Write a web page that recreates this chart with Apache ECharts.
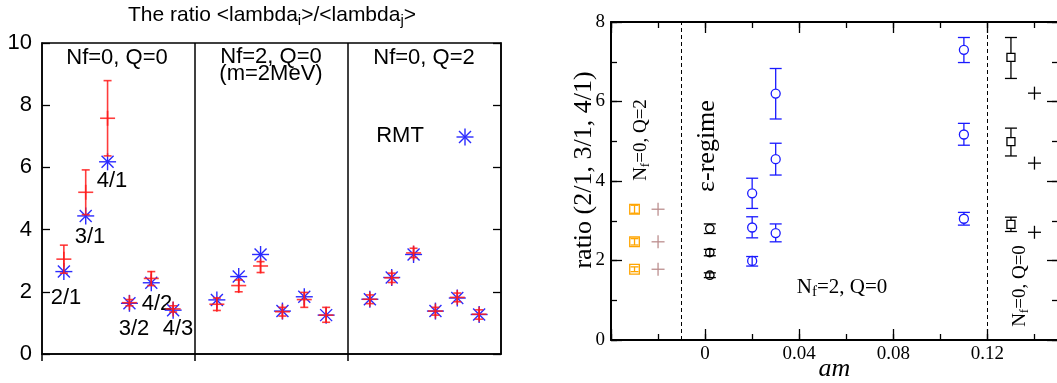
<!DOCTYPE html>
<html>
<head>
<meta charset="utf-8">
<script src="https://cdn.jsdelivr.net/npm/echarts@6/dist/echarts.min.js"></script>
<style>
html, body { margin: 0; padding: 0; background: #fff; }
#main { width: 1057px; height: 383px; }
</style>
</head>
<body>
<div id="main"></div>
<script>
// ---- left panel: <lambda_i>/<lambda_j>, three ensembles, six ratios each
var pairLabels = ['2/1', '3/1', '4/1', '3/2', '4/2', '4/3'];
var ensembleNames = ['Nf=0, Q=0', 'Nf=2, Q=0', 'Nf=0, Q=2'];
var rmtRatio = [2.65, 4.44, 6.18, 1.63, 2.29, 1.41,
                1.74, 2.49, 3.20, 1.38, 1.84, 1.25,
                1.76, 2.46, 3.20, 1.38, 1.80, 1.27];
var latRatio = [3.05, 5.20, 7.58, 1.65, 2.43, 1.45,
                1.60, 2.20, 2.83, 1.36, 1.75, 1.25,
                1.76, 2.45, 3.25, 1.38, 1.82, 1.28];
var latLow   = [2.60, 4.48, 6.37, 1.55, 2.20, 1.35,
                1.40, 2.00, 2.62, 1.22, 1.50, 1.02,
                1.62, 2.30, 3.10, 1.25, 1.68, 1.12];
var latHigh  = [3.50, 5.92, 8.79, 1.75, 2.65, 1.55,
                1.80, 2.38, 2.97, 1.50, 1.98, 1.50,
                1.90, 2.60, 3.40, 1.50, 1.96, 1.42];

// ---- right panel: ratio vs am
var q2Am = [-0.03, -0.03, -0.03];
var q2Ratio = [3.29, 2.47, 1.78];
var q2Err = [0.10, 0.08, 0.06];
var q2RmtAm = [-0.02, -0.02, -0.02];
var q2RmtRatio = [3.29, 2.47, 1.78];
var epsAm = [0.002, 0.002, 0.002];
var epsRatio = [2.80, 2.20, 1.63];
var epsErr = [0.12, 0.08, 0.06];
var pAm    = [0.02, 0.02, 0.02, 0.03, 0.03, 0.03, 0.11, 0.11, 0.11];
var pRatio = [3.69, 2.83, 1.99, 6.20, 4.55, 2.69, 7.30, 5.17, 3.05];
var pLow   = [3.31, 2.57, 1.86, 5.56, 4.15, 2.47, 6.98, 4.90, 2.89];
var pHigh  = [4.07, 3.10, 2.10, 6.83, 4.95, 2.92, 7.61, 5.45, 3.21];
var q0Am = [0.13, 0.13, 0.13];
var q0Ratio = [7.11, 4.99, 2.91];
var q0Low = [6.58, 4.63, 2.73];
var q0High = [7.61, 5.33, 3.09];
var q0RmtAm = [0.14, 0.14, 0.14];
var q0RmtRatio = [6.21, 4.45, 2.71];
var amBreaks = [-0.01, 0.12];

var SANS = 'Liberation Sans';
var SERIF = 'Liberation Serif';
var RED = '#ff1a1a';
var BLUE = '#2a2aff';

function seg(x1, y1, x2, y2, st) {
  return { type: 'line', shape: { x1: x1, y1: y1, x2: x2, y2: y2 }, style: st };
}

// left panel x position: 6 points per section, sections 7 units wide
var latData = [], rmtData = [];
for (var i = 0; i < latRatio.length; i++) {
  var xpos = Math.floor(i / 6) * 7 + (i % 6) + 1;
  latData.push([xpos, latRatio[i], latLow[i], latHigh[i]]);
  rmtData.push([xpos, rmtRatio[i]]);
}

function latticeItem(params, api) {
  var c = api.coord([api.value(0), api.value(1)]);
  var lo = api.coord([api.value(0), api.value(2)]);
  var hi = api.coord([api.value(0), api.value(3)]);
  var st = { stroke: RED, lineWidth: 1.6, opacity: 0.85 };
  return { type: 'group', children: [
    seg(c[0], hi[1], c[0], lo[1], st),
    seg(c[0] - 4, hi[1], c[0] + 4, hi[1], st),
    seg(c[0] - 4, lo[1], c[0] + 4, lo[1], st),
    seg(c[0] - 7.5, c[1], c[0] + 7.5, c[1], st),
    seg(c[0], c[1] - 7.5, c[0], c[1] + 7.5, st)
  ]};
}

function asterisk(x, y, st) {
  return [
    seg(x - 8.5, y, x + 8.5, y, st),
    seg(x, y - 8.5, x, y + 8.5, st),
    seg(x - 6, y - 6, x + 6, y + 6, st),
    seg(x - 6, y + 6, x + 6, y - 6, st)
  ];
}

function rmtItem(params, api) {
  var c = api.coord([api.value(0), api.value(1)]);
  return { type: 'group', children: asterisk(c[0], c[1], { stroke: BLUE, lineWidth: 1.4 }) };
}

// right panel: marker with vertical error bar
function errorItem(color, marker, r, cap) {
  return function (params, api) {
    var x = api.value(0);
    var c = api.coord([x, api.value(1)]);
    var lo = api.coord([x, api.value(2)]);
    var hi = api.coord([x, api.value(3)]);
    var st = { stroke: color, fill: 'none', lineWidth: 1.3 };
    var kids = [];
    if (lo[1] - hi[1] > 0.5) {
      if (hi[1] < c[1] - r) {
        kids.push(seg(c[0], hi[1], c[0], c[1] - r, st));
        kids.push(seg(c[0], c[1] + r, c[0], lo[1], st));
      } else {
        kids.push(seg(c[0], hi[1], c[0], lo[1], st));
      }
      kids.push(seg(c[0] - cap, hi[1], c[0] + cap, hi[1], st));
      kids.push(seg(c[0] - cap, lo[1], c[0] + cap, lo[1], st));
    }
    if (marker === 'circle') {
      kids.push({ type: 'circle', shape: { cx: c[0], cy: c[1], r: r }, style: st });
    } else if (marker === 'square') {
      kids.push({ type: 'rect', shape: { x: c[0] - r, y: c[1] - r, width: 2 * r, height: 2 * r }, style: st });
    } else {
      kids.push(seg(c[0] - r, c[1], c[0] + r, c[1], st));
      kids.push(seg(c[0], c[1] - r, c[0], c[1] + r, st));
    }
    return { type: 'group', children: kids };
  };
}

function zipErr(xs, ys, errs) {
  return xs.map(function (x, k) { return [x, ys[k], ys[k] - errs[k], ys[k] + errs[k]]; });
}
function zipLH(xs, ys, lo, hi) {
  return xs.map(function (x, k) { return [x, ys[k], lo[k], hi[k]]; });
}

var q2Data = zipErr(q2Am, q2Ratio, q2Err);
var q2RmtData = zipErr(q2RmtAm, q2RmtRatio, [0, 0, 0]);
var epsData = zipErr(epsAm, epsRatio, epsErr);
var pData = zipLH(pAm, pRatio, pLow, pHigh);
var q0Data = zipLH(q0Am, q0Ratio, q0Low, q0High);
var q0RmtData = zipErr(q0RmtAm, q0RmtRatio, [0, 0, 0]);

function amLabel(v) {
  if (v < -0.001 || v > 0.121) return '';
  return String(Number(v.toFixed(2)));
}

var black = { color: '#000', width: 2 };
function rightX(pos, interval, len, withLabel) {
  return {
    type: 'value', gridIndex: 1, position: pos, min: -0.04, max: 0.15, interval: interval,
    axisLine: { show: len > 8, onZero: false, lineStyle: black },
    axisTick: { inside: true, length: len, lineStyle: { color: '#000', width: 1.3 } },
    axisLabel: withLabel ? { show: true, formatter: amLabel, color: '#000', fontFamily: SERIF, fontSize: 19, margin: 5 } : { show: false },
    splitLine: { show: false }
  };
}
function rightY(pos, interval, len, withLabel) {
  return {
    type: 'value', gridIndex: 1, position: pos, min: 0, max: 8, interval: interval,
    axisLine: { show: len > 8, onZero: false, lineStyle: black },
    axisTick: { inside: true, length: len, lineStyle: { color: '#000', width: 1.3 } },
    axisLabel: withLabel ? { show: true, color: '#000', fontFamily: SERIF, fontSize: 19, margin: 6 } : { show: false },
    splitLine: { show: false }
  };
}

var xMain = rightX('bottom', 0.04, 11, true);
xMain.name = 'am';
xMain.nameLocation = 'middle';
xMain.nameGap = 16;
xMain.nameMoveOverlap = false;
xMain.nameTextStyle = { fontFamily: SERIF, fontStyle: 'italic', fontSize: 26, color: '#000' };

var option = {
  animation: false,
  backgroundColor: '#fff',
  grid: [
    { left: 42, top: 43, width: 459, height: 311, show: true, borderColor: '#000', borderWidth: 1.5,
      containLabel: false, outerBoundsMode: 'none' },
    { left: 611, top: 22, width: 447, height: 318, containLabel: false, outerBoundsMode: 'none' }
  ],
  xAxis: [
    {
      type: 'value', gridIndex: 0, min: 0, max: 21, interval: 7,
      axisLine: { onZero: false, lineStyle: { color: '#000', width: 1.5 } },
      axisTick: { show: true, length: 7, customValues: [0, 7, 14], lineStyle: { color: '#000', width: 1.5 } },
      axisLabel: { show: false },
      splitLine: { show: false }
    },
    xMain,
    rightX('bottom', 0.02, 6, false),
    rightX('top', 0.04, 11, false),
    rightX('top', 0.02, 6, false)
  ],
  yAxis: [
    {
      type: 'value', gridIndex: 0, min: 0, max: 10, interval: 2,
      axisLine: { onZero: false, lineStyle: { color: '#000', width: 1.5 } },
      axisTick: { inside: true, length: 8, lineStyle: { color: '#000', width: 1.3 } },
      axisLabel: { color: '#000', fontFamily: SANS, fontSize: 22, margin: 10 },
      splitLine: { show: false }
    },
    {
      type: 'value', gridIndex: 0, position: 'right', min: 0, max: 10, interval: 2,
      axisLine: { onZero: false, lineStyle: { color: '#000', width: 1.5 } },
      axisTick: { inside: true, length: 8, lineStyle: { color: '#000', width: 1.3 } },
      axisLabel: { show: false },
      splitLine: { show: false }
    },
    rightY('left', 2, 11, true),
    rightY('left', 1, 6, false),
    rightY('right', 2, 11, false),
    rightY('right', 1, 6, false)
  ],
  series: [
    {
      name: 'RMT', type: 'custom', xAxisIndex: 0, yAxisIndex: 0,
      renderItem: rmtItem, data: rmtData, z: 3
    },
    {
      name: 'lattice', type: 'custom', xAxisIndex: 0, yAxisIndex: 0,
      renderItem: latticeItem, data: latData, z: 4,
      markLine: {
        silent: true, symbol: ['none', 'none'], label: { show: false },
        lineStyle: { color: '#000', width: 1.5, type: 'solid' },
        data: [{ xAxis: 7 }, { xAxis: 14 }]
      }
    },
    {
      name: 'Nf=0 Q=2', type: 'custom', xAxisIndex: 1, yAxisIndex: 2,
      renderItem: errorItem('#ffa500', 'square', 4.8, 4), data: q2Data,
      markLine: {
        silent: true, symbol: ['none', 'none'], label: { show: false },
        lineStyle: { color: '#000', width: 1, type: [4, 3] },
        data: amBreaks.map(function (v) { return { xAxis: v }; })
      }
    },
    { name: 'RMT Q=2', type: 'custom', xAxisIndex: 1, yAxisIndex: 2,
      renderItem: errorItem('#bc8f8f', 'plus', 6.5, 0), data: q2RmtData },
    { name: 'eps', type: 'custom', xAxisIndex: 1, yAxisIndex: 2,
      renderItem: errorItem('#000', 'circle', 4.2, 6), data: epsData },
    { name: 'p', type: 'custom', xAxisIndex: 1, yAxisIndex: 2,
      renderItem: errorItem('#1a1aff', 'circle', 4.5, 6), data: pData },
    { name: 'Nf=0 Q=0', type: 'custom', xAxisIndex: 1, yAxisIndex: 2,
      renderItem: errorItem('#000', 'square', 4, 6), data: q0Data },
    { name: 'RMT Q=0', type: 'custom', xAxisIndex: 1, yAxisIndex: 2,
      renderItem: errorItem('#000', 'plus', 6.5, 0), data: q0RmtData }
  ],
  graphic: []
};

function txt(x, y, text, size, family, extra) {
  var el = { type: 'text', x: x, y: y, silent: true,
    style: { text: text, fill: '#000', fontFamily: family, fontSize: size, align: 'center', verticalAlign: 'middle' } };
  if (extra) for (var k in extra) el[k] = extra[k];
  return el;
}
function subRich(size, family) {
  return {
    n: { fontFamily: family, fontSize: size, fill: '#000', lineHeight: size + 2 },
    s: { fontFamily: family, fontSize: Math.round(size * 0.7), fill: '#000', padding: [Math.round(size * 0.5), 0, 0, 0] }
  };
}

var g = option.graphic;
// left panel title
var title = txt(272, 15, '{n|The ratio <lambda}{s|i}{n|>/<lambda}{s|j}{n|>}', 21, SANS);
title.style.rich = subRich(21, SANS);
g.push(title);
// ensemble names
g.push(txt(117, 58, ensembleNames[0], 22, SANS));
g.push(txt(271, 57, ensembleNames[1], 22, SANS));
g.push(txt(271, 74, '(m=2MeV)', 22, SANS));
g.push(txt(424, 58, ensembleNames[2], 22, SANS));
// ratio labels in first ensemble
var pairPos = [[66, 298], [90, 237], [112, 181], [134, 329], [157, 304], [178, 329]];
pairLabels.forEach(function (lab, k) { g.push(txt(pairPos[k][0], pairPos[k][1], lab, 22, SANS)); });
// RMT key
g.push(txt(400, 136, 'RMT', 22, SANS));
g.push({ type: 'group', x: 465, y: 137, silent: true,
  children: asterisk(0, 0, { stroke: BLUE, lineWidth: 1.4 }) });

// right panel axis title and annotations
g.push(txt(584, 170, 'ratio (2/1, 3/1, 4/1)', 26, SERIF, { rotation: Math.PI / 2 }));
var t1 = txt(641, 140, '{n|N}{s|f}{n|=0, Q=2}', 19, SERIF, { rotation: Math.PI / 2 });
t1.style.rich = subRich(19, SERIF);
g.push(t1);
g.push(txt(707, 146, 'ε-regime', 26, SERIF, { rotation: Math.PI / 2 }));
var t2 = txt(842, 287, '{n|N}{s|f}{n|=2, Q=0}', 21, SERIF);
t2.style.rich = subRich(21, SERIF);
g.push(t2);
var t3 = txt(1020, 286, '{n|N}{s|f}{n|=0, Q=0}', 19, SERIF, { rotation: Math.PI / 2 });
t3.style.rich = subRich(19, SERIF);
g.push(t3);

var chart = echarts.init(document.getElementById('main'), null, { renderer: 'canvas' });
chart.setOption(option);
</script>
</body>
</html>
